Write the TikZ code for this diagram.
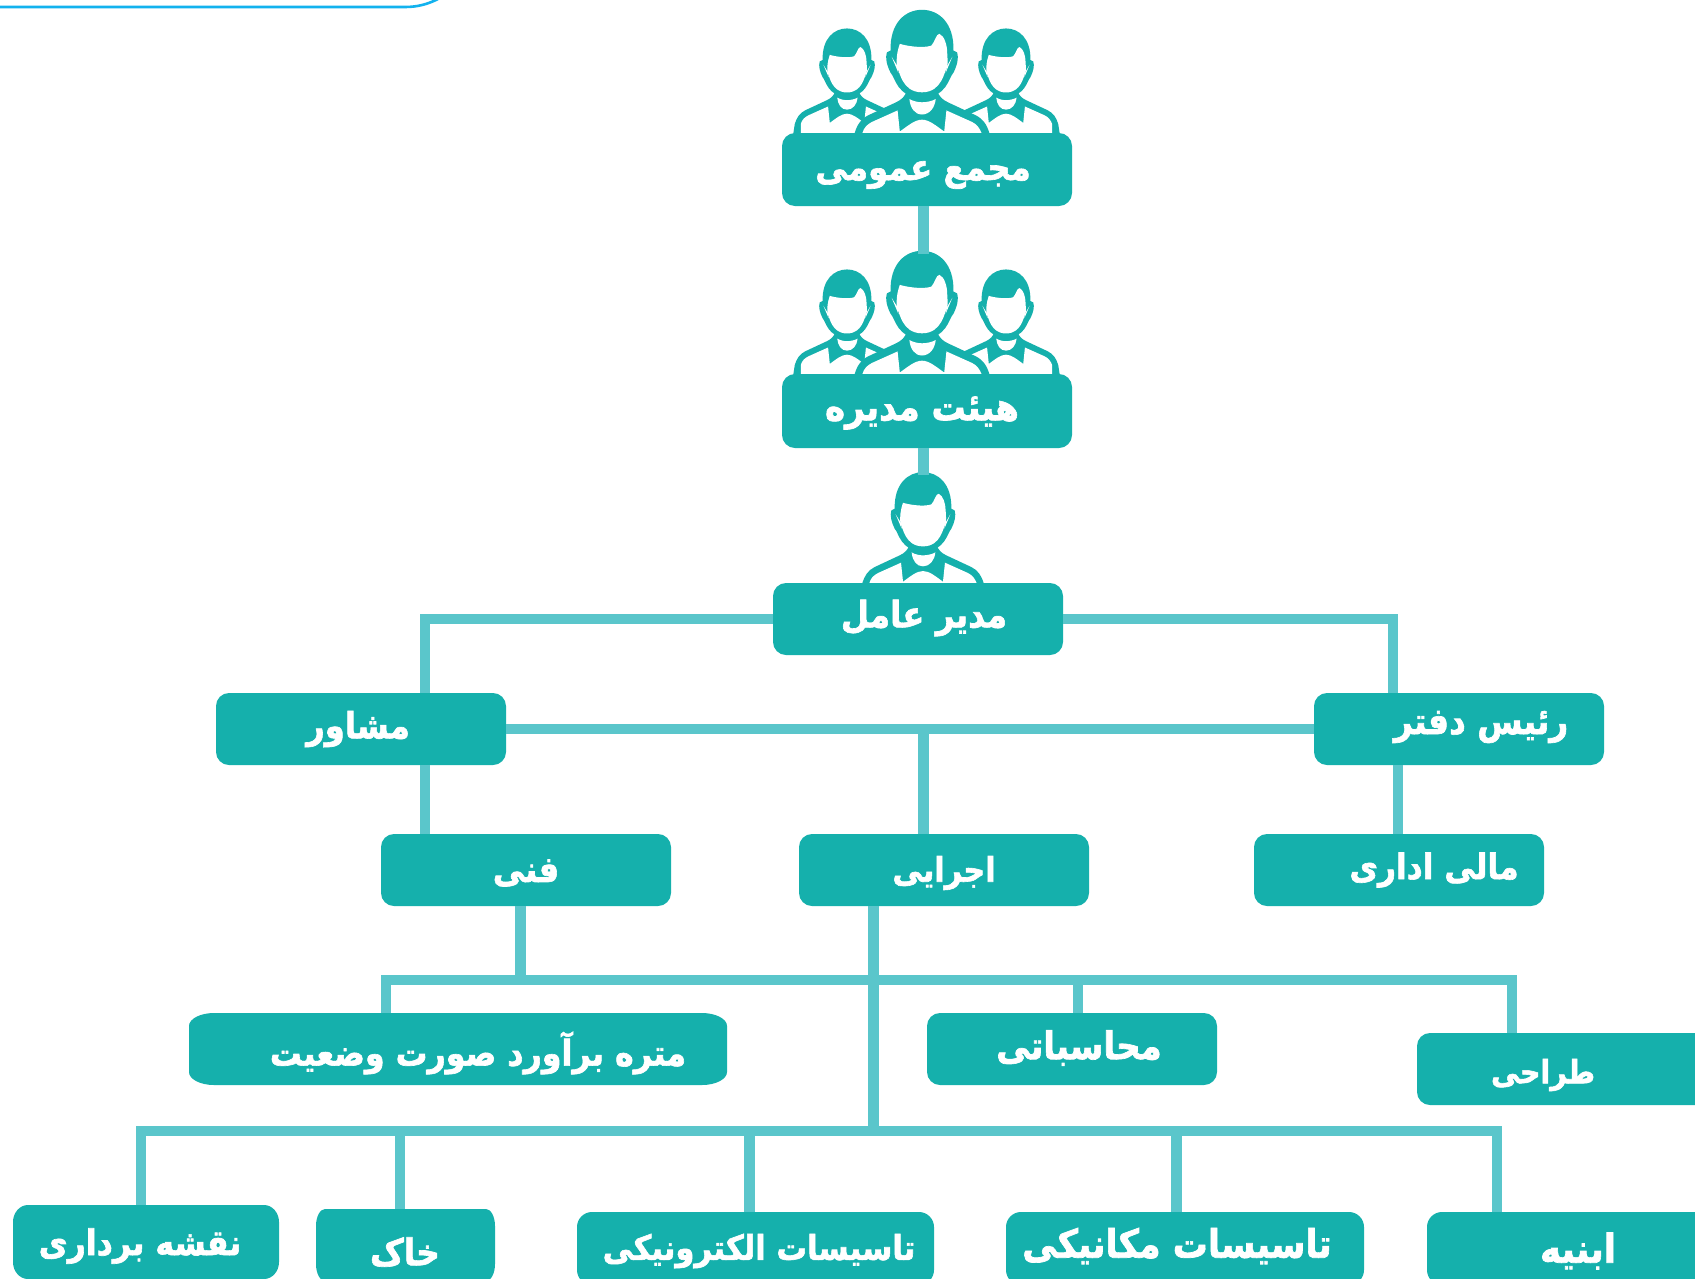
\documentclass[tikz,border=0pt]{standalone}
\usepackage{fontspec}
\TeXXeTstate=1
\newfontfamily\fa[Script=Arabic,BoldFeatures={FakeBold=1.8}]{DejaVu Sans}
\definecolor{boxc}{HTML}{15B0AC}
\definecolor{linec}{HTML}{5AC6CB}
\definecolor{edgec}{HTML}{12B2EE}
\tikzset{
  x=1pt,y=-1pt,
  conn/.style={draw=linec,line width=10.5pt,line join=miter,line cap=butt},
  unit/.style={inner sep=0pt,outer sep=0pt},
  lbl/.style={text=white,inner sep=0pt,transform shape,yscale=1.12,font=\fa\bfseries\fontsize{#1}{#1}\selectfont},
  person/.pic={
    \begin{scope}[shift={(-250,-368)}]
    \fill[boxc] (60,420) -- (68,368) .. controls (75,345) and (85,330) .. (105,320) -- (180,285) .. controls (195,278) and (205,268) .. (208,255) -- (292,255) .. controls (295,268) and (305,278) .. (320,285) -- (395,320) .. controls (415,330) and (425,345) .. (432,368) -- (440,420) -- cycle;
    \fill[white] (89,420) -- (89,368) .. controls (93,354) and (101,345) .. (115,338) -- (184,307) -- (190,364) -- (190,420) -- cycle;
    \fill[white] (411,420) -- (411,368) .. controls (405,354) and (399,345) .. (385,338) -- (316,307) -- (310,364) -- (310,420) -- cycle;
    \fill[white] (190,420) -- (190,364) .. controls (210,350) and (230,332) .. (250,332) .. controls (270,332) and (290,350) .. (310,364) -- (310,420) -- cycle;
    \fill[white] (216,276) .. controls (225,282) and (240,285) .. (250,285) .. controls (260,285) and (278,282) .. (287,276) .. controls (285,300) and (270,318) .. (250,318) .. controls (230,318) and (218,300) .. (216,276) -- cycle;
    \fill[boxc] (165,145) .. controls (163,70) and (205,35) .. (250,35) .. controls (295,35) and (337,70) .. (335,145) -- (345,150) .. controls (350,165) and (345,185) .. (335,205) .. controls (322,218) and (318,272) .. (250,272) .. controls (182,272) and (178,218) .. (165,205) .. controls (155,185) and (150,165) .. (155,150) -- cycle;
    \fill[white] (190,127) .. controls (205,132) and (250,140) .. (275,132) .. controls (285,122) and (288,100) .. (297,100) .. controls (310,105) and (318,130) .. (318,150) .. controls (319,165) and (320,180) .. (318,190) .. controls (310,200) and (305,258) .. (250,258) .. controls (195,258) and (190,200) .. (182,190) .. controls (180,170) and (182,150) .. (190,127) -- cycle;
    \fill[white] (168,162) -- (184,188) -- (186,205) -- cycle;
    \fill[white] (332,162) -- (317,188) -- (314,205) -- cycle;
    \end{scope}
  }
}
\newcommand{\rx}{13}
\newcommand{\ry}{13}
% name, x1, y1, x2, y2, text, text x, text y, size
\newcommand{\unitbox}[9]{%
  \fill[boxc] ({#2+\rx},#3) -- ({#4-\rx},#3)
    .. controls ({#4-.45*\rx},#3) and (#4,{#3+.45*\ry}) .. (#4,{#3+\ry})
    -- (#4,{#5-\ry})
    .. controls (#4,{#5-.45*\ry}) and ({#4-.45*\rx},#5) .. ({#4-\rx},#5)
    -- ({#2+\rx},#5)
    .. controls ({#2+.45*\rx},#5) and (#2,{#5-.45*\ry}) .. (#2,{#5-\ry})
    -- (#2,{#3+\ry})
    .. controls (#2,{#3+.45*\ry}) and ({#2+.45*\rx},#3) .. ({#2+\rx},#3) -- cycle;
  \node[unit,minimum width={(#4-#2)*1pt},minimum height={(#5-#3)*1pt}] (#1) at ({(#2+#4)/2},{(#3+#5)/2}) {};
  \node[lbl=#9] (#1-t) at (#7,#8) {#6};
}
\begin{document}
\begin{tikzpicture}
\clip (0,0) rectangle (1695,1278);
\fill[white] (0,0) rectangle (1695,1278);
% edge of a shape cut off by the top of the picture
\draw[edgec,line width=2.6pt] (0,7) -- (405,7) .. controls (418,7) and (428,4) .. (438,-1);
% junction coordinates
\coordinate (vMid) at (923.5,0);
\coordinate (vL) at (425,0);
\coordinate (vR) at (1393,0);
\coordinate (vFin) at (1398,0);
\coordinate (vTech) at (520.5,0);
\coordinate (vExec) at (873.5,0);
\coordinate (hBoardTop) at (923.5,254);
\coordinate (hMgrTop) at (923.5,475);
\coordinate (r2) at (0,980);
\coordinate (r3) at (0,1131);
\coordinate (m1) at (0,619);
\coordinate (m2) at (0,729);
% people, standing behind the boxes
\pic[scale=.287] at (847,124) {person};
\pic[scale=.287] at (1006,124) {person};
\pic[scale=.37] at (922,133) {person};
\pic[scale=.287] at (847,365) {person};
\pic[scale=.287] at (1006,365) {person};
\pic[scale=.37] at (922,374) {person};
\pic[scale=.333] at (923,583) {person};
\unitbox{top}{782}{133}{1072}{206}{\beginR مجمع عمومی\endR}{923}{175}{32.4}
\unitbox{board}{782}{374}{1072}{448}{\beginR هیئت مدیره\endR}{922}{413}{34}
\unitbox{mgr}{773}{583}{1063}{655}{\beginR مدیر عامل\endR}{924}{618}{32.5}
\unitbox{advisor}{216}{693}{506}{765}{\beginR مشاور\endR}{358}{729}{32.3}
\unitbox{office}{1314}{693}{1604}{765}{\beginR رئیس دفتر\endR}{1481}{727}{32.8}
\unitbox{tech}{381}{834}{671}{906}{\beginR فنی\endR}{526}{873}{32}
\unitbox{exec}{799}{834}{1089}{906}{\beginR اجرایی\endR}{944}{873}{30.2}
\unitbox{fin}{1254}{834}{1544}{906}{\beginR مالی اداری\endR}{1434}{870}{31.2}
\renewcommand{\rx}{25}
\unitbox{qs}{189}{1013}{727}{1085}{\beginR متره برآورد صورت وضعیت\endR}{478}{1053}{31.7}
\renewcommand{\rx}{13}
\unitbox{acc}{927}{1013}{1217}{1085}{\beginR محاسباتی\endR}{1079}{1048}{34}
\unitbox{design}{1417}{1033}{1730}{1105}{\beginR طراحی\endR}{1543}{1075}{28.6}
\renewcommand{\rx}{15}\renewcommand{\ry}{17}
\unitbox{survey}{13}{1205}{279}{1279}{\beginR نقشه برداری\endR}{140}{1246}{31.6}
\renewcommand{\rx}{9}
\unitbox{soil}{316}{1209}{495}{1281}{\beginR خاک\endR}{405}{1252}{33}
\renewcommand{\rx}{15}\renewcommand{\ry}{15}
\unitbox{elec}{577}{1212}{934}{1285}{\beginR تاسیسات الکترونیکی\endR}{759}{1251}{30.6}
\unitbox{mech}{1006}{1212}{1364}{1285}{\beginR تاسیسات مکانیکی\endR}{1177}{1246}{35}
\unitbox{civil}{1427}{1212}{1730}{1285}{\beginR ابنیه\endR}{1578}{1251}{35.5}
% connectors
\draw[conn] (top.south -| vMid) -- (hBoardTop);
\draw[conn] (board.south -| vMid) -- (hMgrTop);
\draw[conn] (mgr.west |- m1) -- (vL |- m1) -- (advisor.north -| vL);
\draw[conn] (mgr.east |- m1) -- (vR |- m1) -- (office.north -| vR);
\draw[conn] (advisor.east |- m2) -- (office.west |- m2);
\draw[conn] (vMid |- m2) -- (exec.north -| vMid);
\draw[conn] (advisor.south -| vL) -- (tech.north -| vL);
\draw[conn] (office.south -| vFin) -- (fin.north -| vFin);
\draw[conn] (tech.south -| vTech) -- (vTech |- r2);
\draw[conn] (exec.south -| vExec) -- (vExec |- r3);
\coordinate (qsDrop) at (386,0);
\coordinate (accDrop) at (1078,0);
\coordinate (desDrop) at (1512,0);
\draw[conn] (qs.north -| qsDrop) -- (qsDrop |- r2) -- (desDrop |- r2) -- (design.north -| desDrop);
\draw[conn] (accDrop |- r2) -- (acc.north -| accDrop);
\coordinate (d1) at (141,0);
\coordinate (d2) at (400,0);
\coordinate (d3) at (749.5,0);
\coordinate (d4) at (1176.5,0);
\coordinate (d5) at (1497,0);
\draw[conn] (survey.north -| d1) -- (d1 |- r3) -- (d5 |- r3) -- (civil.north -| d5);
\draw[conn] (d2 |- r3) -- (soil.north -| d2);
\draw[conn] (d3 |- r3) -- (elec.north -| d3);
\draw[conn] (d4 |- r3) -- (mech.north -| d4);
\end{tikzpicture}
\end{document}
